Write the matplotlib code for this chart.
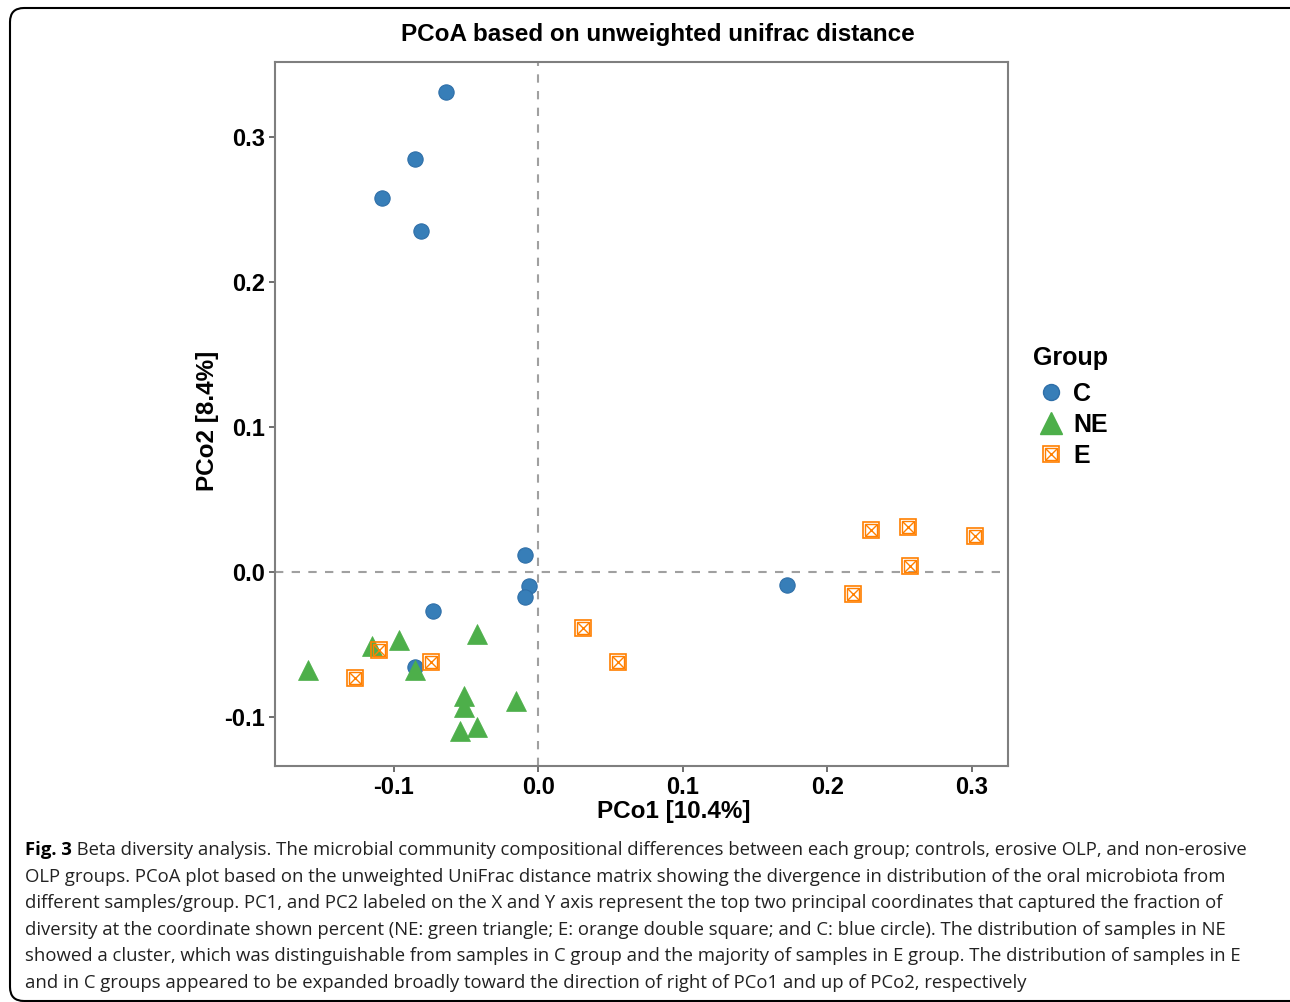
import matplotlib
matplotlib.use('Agg')
import matplotlib.pyplot as plt
from matplotlib.lines import Line2D
from matplotlib.patches import FancyBboxPatch

plt.rcParams['axes.unicode_minus'] = False
plt.rcParams['font.family'] = ['Liberation Sans', 'DejaVu Sans']

# PCoA coordinates
c_x = [-0.064, -0.085, -0.108, -0.081, -0.009, -0.006, -0.009, -0.073, -0.085, 0.172]
c_y = [0.331, 0.285, 0.258, 0.235, 0.012, -0.010, -0.017, -0.027, -0.066, -0.009]

ne_x = [-0.159, -0.115, -0.096, -0.085, -0.042, -0.051, -0.051, -0.015, -0.042, -0.054]
ne_y = [-0.068, -0.051, -0.047, -0.068, -0.043, -0.086, -0.093, -0.089, -0.107, -0.110]

e_x = [-0.127, -0.110, -0.074, 0.031, 0.055, 0.230, 0.256, 0.302, 0.257, 0.218]
e_y = [-0.073, -0.054, -0.062, -0.039, -0.062, 0.029, 0.031, 0.025, 0.004, -0.015]

x_ticks = [-0.1, 0.0, 0.1, 0.2, 0.3]
y_ticks = [-0.1, 0.0, 0.1, 0.2, 0.3]

BLUE = '#377EB8'
GREEN = '#4DAF4A'
ORANGE = '#FF7F00'

caption = [
    " Beta diversity analysis. The microbial community compositional differences between each group; controls, erosive OLP, and non-erosive",
    "OLP groups. PCoA plot based on the unweighted UniFrac distance matrix showing the divergence in distribution of the oral microbiota from",
    "different samples/group. PC1, and PC2 labeled on the X and Y axis represent the top two principal coordinates that captured the fraction of",
    "diversity at the coordinate shown percent (NE: green triangle; E: orange double square; and C: blue circle). The distribution of samples in NE",
    "showed a cluster, which was distinguishable from samples in C group and the majority of samples in E group. The distribution of samples in E",
    "and in C groups appeared to be expanded broadly toward the direction of right of PCo1 and up of PCo2, respectively",
]

W, H = 1290, 1002
fig = plt.figure(figsize=(W / 100, H / 100), dpi=100)

# outer rounded frame
frame = FancyBboxPatch((10, 1), W + 20, H - 9, boxstyle='round,pad=0,rounding_size=14',
                       transform=None, fill=False, ec='black', lw=1.5)
fig.patches.append(frame)

ax = fig.add_axes([275 / W, 1 - 766 / H, 733 / W, 704 / H])
ax.set_xlim(-0.182, 0.325)
ax.set_ylim(-0.134, 0.352)

ax.axvline(0, color='#a0a0a0', ls=(0, (4, 4)), lw=1.5, zorder=1)
ax.axhline(0, color='#a0a0a0', ls=(0, (4, 4)), lw=1.5, zorder=1)

ax.plot(c_x, c_y, 'o', ms=11, mfc=BLUE, mec='#2f6fa8', mew=0.8, ls='none', zorder=3)
ax.plot(ne_x, ne_y, '^', ms=15, mfc=GREEN, mec=GREEN, mew=0.5, ls='none', zorder=3)
ax.plot(e_x, e_y, 's', ms=12, mfc='none', mec=ORANGE, mew=1.2, ls='none', zorder=4)
ax.plot(e_x, e_y, 's', ms=8, mfc='none', mec=ORANGE, mew=1.0, ls='none', zorder=4)
ax.plot(e_x, e_y, 'x', ms=8, mec=ORANGE, mew=1.0, ls='none', zorder=4)

ax.set_xticks(x_ticks)
ax.set_yticks(y_ticks)
ax.set_xticklabels([f'{v:.1f}' for v in x_ticks])
ax.set_yticklabels([f'{v:.1f}' for v in y_ticks])
ax.tick_params(labelsize=17, length=4, width=1.2, color='#555555', pad=3)
for lab in ax.get_xticklabels() + ax.get_yticklabels():
    lab.set_fontweight('bold')
for sp in ax.spines.values():
    sp.set_color('#7f7f7f')
    sp.set_linewidth(1.5)

ax.set_xlabel('PCo1 [10.4%]', fontsize=17.5, fontweight='bold')
ax.set_ylabel('PCo2 [8.4%]', fontsize=17.5, fontweight='bold')
ax.xaxis.set_label_coords((674 - 275) / 733, -(800 - 766) / 704)
ax.yaxis.set_label_coords(-(275 - 219) / 733, (766 - 421) / 704)

fig.text(658 / W, 1 - 35 / H, 'PCoA based on unweighted unifrac distance',
         ha='center', va='center', fontsize=17.5, fontweight='bold')

# legend
h_c = Line2D([], [], marker='o', ms=11.5, mfc=BLUE, mec='#2f6fa8', ls='none')
h_ne = Line2D([], [], marker='^', ms=16, mfc=GREEN, mec=GREEN, ls='none')
h_e = (Line2D([], [], marker='s', ms=12, mfc='none', mec=ORANGE, mew=1.2, ls='none'),
       Line2D([], [], marker='s', ms=8, mfc='none', mec=ORANGE, mew=1.0, ls='none'),
       Line2D([], [], marker='x', ms=8, mec=ORANGE, mew=1.0, ls='none'))
leg = fig.legend([h_c, h_ne, h_e], ['C', 'NE', 'E'], title='Group',
                 loc='upper left', bbox_to_anchor=(1015 / W, 1 - 329 / H),
                 frameon=False, prop={'size': 18, 'weight': 'bold'},
                 title_fontproperties={'size': 18, 'weight': 'bold'},
                 handlelength=1.5, handletextpad=0.12, labelspacing=0.28,
                 borderpad=0.2)
leg._legend_box.align = 'left'
leg._legend_box.sep = 8

# caption
fig.canvas.draw()
r = fig.canvas.get_renderer()
cap_font = ['Open Sans', 'DejaVu Sans']
y0 = 850
cap_size = 13.3
t = fig.text(25 / W, 1 - y0 / H, 'Fig. 3', fontsize=cap_size, fontweight='bold',
             family=cap_font, va='center', ha='left')
bb = t.get_window_extent(r)
fig.text(bb.x1 / W, 1 - y0 / H, caption[0], fontsize=cap_size, family=cap_font,
         va='center', ha='left', color='#222222')
for i, line in enumerate(caption[1:], start=1):
    fig.text(25 / W, 1 - (y0 + i * 26.6) / H, line, fontsize=cap_size, family=cap_font,
             va='center', ha='left', color='#222222')

fig.savefig('out.png', dpi=100)
